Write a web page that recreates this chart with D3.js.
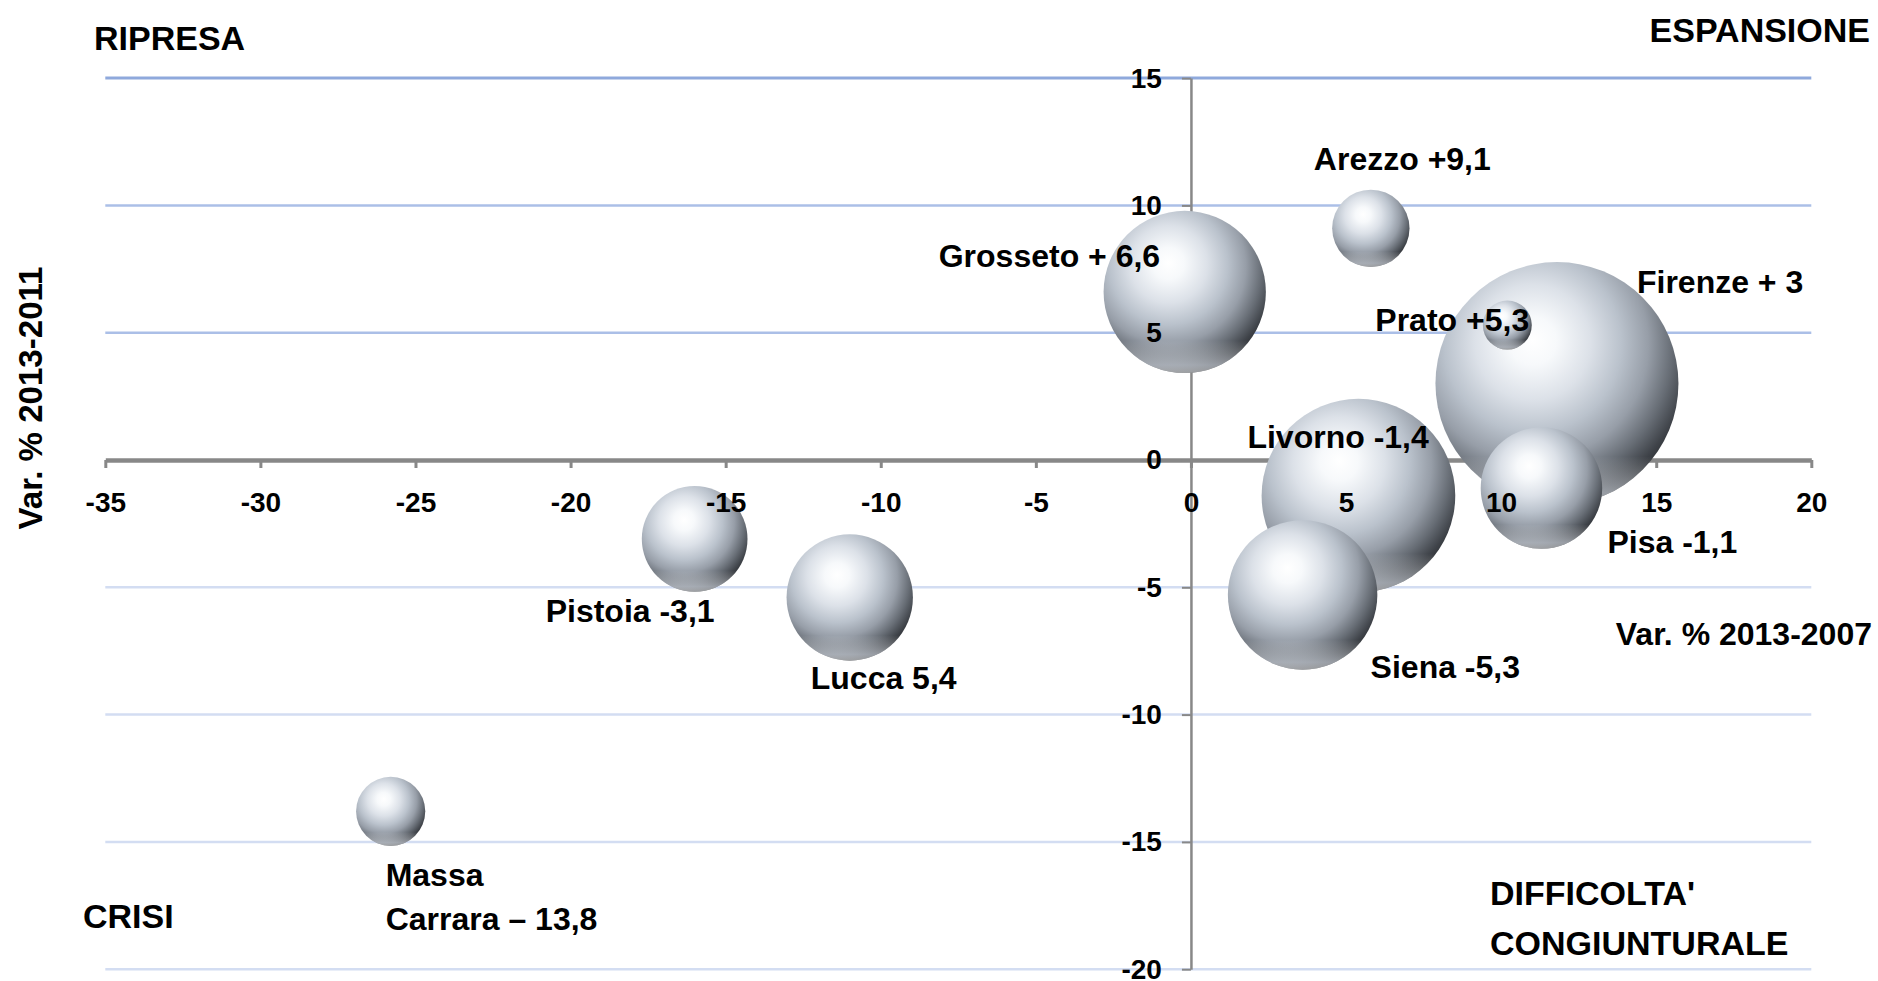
<!DOCTYPE html>
<html>
<head>
<meta charset="utf-8">
<script src="https://cdn.jsdelivr.net/npm/d3@7"></script>
<style>
  body { margin: 0; background: #ffffff; }
  svg text { font-family: "Liberation Sans", Arial, sans-serif; font-weight: bold; fill: #000; }
</style>
</head>
<body>
<div id="canvas"></div>
<script>
"use strict"

/* Data */
let provinces = ["Firenze", "Livorno", "Grosseto", "Siena", "Lucca", "Pisa", "Pistoia", "Arezzo", "Massa Carrara", "Prato"];
let var20132007 = [11.8, 5.4, -0.2, 3.6, -11.0, 11.3, -16.0, 5.8, -25.8, 10.2];
let var20132011 = [3.0, -1.4, 6.6, -5.3, -5.4, -1.1, -3.1, 9.1, -13.8, 5.3];
let bubbleSize = [148, 94, 66, 56, 40, 37, 28, 15, 12, 6];
let labelLines = [
    ["Firenze + 3"], ["Livorno -1,4"], ["Grosseto + 6,6"], ["Siena -5,3"], ["Lucca 5,4"],
    ["Pisa -1,1"], ["Pistoia -3,1"], ["Arezzo +9,1"], ["Massa", "Carrara \u2013 13,8"], ["Prato +5,3"]
];
let xTickValues = [-35, -30, -25, -20, -15, -10, -5, 0, 5, 10, 15, 20];
let yTickValues = [15, 10, 5, 0, -5, -10, -15, -20];

/* Configuration variables: drawing */
let svgWidth = 1878;
let svgHeight = 981;

let svg = d3.select("#canvas")
    .append("svg")
    .attr("width", svgWidth)
    .attr("height", svgHeight);

/* Scales */
let xScale = d3.scaleLinear()
    .domain([-35, 20])
    .range([105.3, 1811.3]);

let yScale = d3.scaleLinear()
    .domain([-20, 15])
    .range([969.2, 78.1]);

let rScale = d3.scaleSqrt()
    .domain([0, d3.max(bubbleSize)])
    .range([0, 121.5]);

/* Sphere shading */
let defs = svg.append("defs");
let sphere = defs.append("radialGradient")
    .attr("id", "sphere")
    .attr("cx", "40%").attr("cy", "35%").attr("r", "70%")
    .attr("fx", "40%").attr("fy", "32%");
[[0, "#ffffff"], [0.14, "#f7f9fb"], [0.34, "#dce1e8"], [0.52, "#bac2cc"], [0.68, "#979ea8"], [0.82, "#676d75"], [0.93, "#3f4349"], [1, "#2b2e32"]]
    .forEach(function (s) {
        sphere.append("stop").attr("offset", s[0]).attr("stop-color", s[1]);
    });

let rim = defs.append("linearGradient")
    .attr("id", "rim")
    .attr("x1", 0).attr("y1", 0).attr("x2", 0).attr("y2", 1);
rim.append("stop").attr("offset", 0.8).attr("stop-color", "#ffffff").attr("stop-opacity", 0);
rim.append("stop").attr("offset", 0.95).attr("stop-color", "#e8eef7").attr("stop-opacity", 0.55);
rim.append("stop").attr("offset", 1).attr("stop-color", "#ffffff").attr("stop-opacity", 0.5);

/* Gridlines */
function gridColor(v) {
    if (v === 15) return "#8FA9DC";
    if (v > 0) return "#ABBFE7";
    return "#D3DDF2";
}

svg.append("g")
    .selectAll("line")
    .data(yTickValues.filter(function (v) { return v !== 0; }))
    .join("line")
    .attr("x1", xScale(-35))
    .attr("x2", xScale(20))
    .attr("y1", function (v) { return yScale(v); })
    .attr("y2", function (v) { return yScale(v); })
    .attr("stroke", gridColor)
    .attr("stroke-width", function (v) { return v === 15 ? 3 : 2.5; });

/* Axes: lines under the bubbles, labels above */
let plainNumber = function (v) { return String(v); };

let xAxis = d3.axisBottom(xScale)
    .tickValues(xTickValues)
    .tickSize(8)
    .tickSizeOuter(0)
    .tickPadding(24)
    .tickFormat(plainNumber);

let yAxis = d3.axisLeft(yScale)
    .tickValues(yTickValues)
    .tickSize(9)
    .tickSizeOuter(0)
    .tickPadding(20)
    .tickFormat(plainNumber);

function styleAxis(g, domainWidth, tickWidth) {
    g.select(".domain").attr("stroke", "#888888").attr("stroke-width", domainWidth);
    g.selectAll(".tick line").attr("stroke", "#888888").attr("stroke-width", tickWidth);
    g.selectAll(".tick text").remove();
}

svg.append("g")
    .attr("transform", "translate(0," + yScale(0) + ")")
    .call(xAxis)
    .call(styleAxis, 4.5, 3);

svg.append("g")
    .attr("transform", "translate(" + xScale(0) + ",0)")
    .call(yAxis)
    .call(styleAxis, 2.5, 2);

/* Bubbles, biggest first so small ones stay in front */
let bubbles = provinces.map(function (name, i) {
    return {name: name, x: var20132007[i], y: var20132011[i], size: bubbleSize[i], lines: labelLines[i]};
});
bubbles.sort(function (a, b) { return b.size - a.size; });

let balls = svg.append("g")
    .selectAll("g")
    .data(bubbles)
    .join("g")
    .attr("transform", function (d) { return "translate(" + xScale(d.x) + "," + yScale(d.y) + ")"; });

balls.append("circle")
    .attr("r", function (d) { return rScale(d.size); })
    .attr("fill", "url(#sphere)");

balls.append("circle")
    .attr("r", function (d) { return rScale(d.size); })
    .attr("fill", "url(#rim)");

/* Tick labels drawn above the bubbles */
function styleLabels(g) {
    g.select(".domain").remove();
    g.selectAll(".tick line").remove();
    g.selectAll("text")
        .attr("font-size", 28)
        .attr("font-family", "Liberation Sans, Arial, sans-serif")
        .attr("font-weight", "bold")
        .attr("fill", "#000");
}

svg.append("g")
    .attr("transform", "translate(0," + yScale(0) + ")")
    .call(xAxis)
    .call(styleLabels);

svg.append("g")
    .attr("transform", "translate(" + xScale(0) + ",0)")
    .call(yAxis)
    .call(styleLabels);

/* Data labels, placed relative to each bubble */
let labelPlacement = {
    "Firenze": [80, -91],
    "Livorno": [-111, -48],
    "Grosseto": [-246, -25],
    "Siena": [68, 83],
    "Lucca": [-39, 92],
    "Pisa": [66, 65],
    "Pistoia": [-149, 83],
    "Arezzo": [-57, -58],
    "Massa Carrara": [-5, 75],
    "Prato": [-132, 5.5]
};

let labels = svg.append("g")
    .selectAll("text")
    .data(bubbles)
    .join("text")
    .attr("x", function (d) { return xScale(d.x) + labelPlacement[d.name][0]; })
    .attr("y", function (d) { return yScale(d.y) + labelPlacement[d.name][1]; })
    .attr("font-size", 32);

labels.selectAll("tspan")
    .data(function (d) { return d.lines; })
    .join("tspan")
    .attr("x", function () { return d3.select(this.parentNode).attr("x"); })
    .attr("dy", function (d, i) { return i === 0 ? 0 : 44; })
    .text(function (d) { return d; });

/* Quadrant titles */
svg.append("text").attr("x", 94).attr("y", 50).attr("font-size", 34).text("RIPRESA");
svg.append("text").attr("x", 1870).attr("y", 42).attr("font-size", 34)
    .attr("text-anchor", "end").text("ESPANSIONE");
svg.append("text").attr("x", 83).attr("y", 928).attr("font-size", 34).text("CRISI");
svg.append("text").attr("x", 1490).attr("y", 905).attr("font-size", 34).text("DIFFICOLTA'");
svg.append("text").attr("x", 1490).attr("y", 955).attr("font-size", 34).text("CONGIUNTURALE");

/* Axis titles */
svg.append("text")
    .attr("x", 1872)
    .attr("y", 645)
    .attr("font-size", 32)
    .attr("text-anchor", "end")
    .text("Var. % 2013-2007");

svg.append("text")
    .attr("transform", "translate(42,398) rotate(-90)")
    .attr("text-anchor", "middle")
    .attr("font-family", "DejaVu Sans, sans-serif")
    .attr("font-size", 33)
    .attr("textLength", 263)
    .attr("lengthAdjust", "spacingAndGlyphs")
    .text("Var. % 2013-2011");
</script>
</body>
</html>
